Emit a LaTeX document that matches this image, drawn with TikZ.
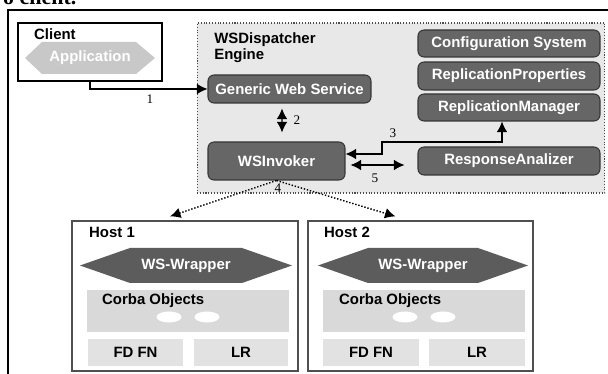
\documentclass[tikz,border=0pt]{standalone}
\usepackage{fontspec}
\setmainfont{Liberation Serif}
\setsansfont{Liberation Sans}
\usepackage{tikz}
\usetikzlibrary{arrows.meta,shapes.geometric}

\definecolor{boxgray}{HTML}{666666}
\definecolor{boxedge}{HTML}{363636}
\definecolor{dispgray}{HTML}{E8E8E8}
\definecolor{appgray}{HTML}{C8C8C8}
\definecolor{wrapgray}{HTML}{5C5C5C}
\definecolor{corbagray}{HTML}{D9D9D9}
\definecolor{cellgray}{HTML}{E2E2E2}
\definecolor{hostedge}{HTML}{505050}

\tikzset{
	lbl/.style={font=\sffamily\bfseries\fontsize{8.5}{9.2}\selectfont},
	num/.style={font=\rmfamily\fontsize{7.5}{8}\selectfont},
	darkbox/.style={lbl, draw=boxedge, fill=boxgray, text=white,
		rounded corners=0.12cm, line width=.6pt},
	hostbox/.style={draw=hostedge, fill=white, line width=.7pt},
	panel/.style={fill=corbagray},
	cellbox/.style={lbl, fill=cellgray, minimum height=0.54cm},
	blob/.style={ellipse, fill=white, inner sep=0pt,
		minimum width=0.5cm, minimum height=0.22cm}
}

\begin{document}
\begin{tikzpicture}[x=0.02cm,y=-0.02cm]
\useasboundingbox (0,0) rectangle (608,374);
% line of text cut off above the figure
\begin{scope}
	\clip (0,0) rectangle (608,8);
	\node[anchor=base west, font=\rmfamily\bfseries\fontsize{12.5}{13}\selectfont] (cut) at (-3,5) {o client.};
\end{scope}
\draw[line width=.7pt] (8,10) rectangle (700,420);

% client side
\node[draw, line width=.6pt, minimum width=2.88cm, minimum height=1.16cm] (client) at (90,52) {};
\node[lbl, anchor=west] (clientlbl) at (28,34) {Client};
\fill[appgray] (25,58) -- (42,42) -- (136,42) -- (155,58) -- (136,74) -- (42,74) -- cycle;
\node[lbl, text=white] (app) at (90,58) {Application};

% dispatcher engine
\node[draw=black!70, densely dotted, line width=.6pt, fill=dispgray,
	minimum width=8.16cm, minimum height=3.4cm] (disp) at (401,108) {};
\node[lbl, anchor=north west, align=left, inner sep=0pt] (displbl) at (214,32) {WSDispatcher\\Engine};
\begin{scope}[every node/.append style={darkbox}]
	\node[minimum width=3.26cm, minimum height=0.56cm] (gws) at (289.5,89) {Generic Web Service};
	\node[minimum width=2.74cm, minimum height=0.76cm] (inv) at (276.5,161) {WSInvoker};
	\node[minimum width=3.64cm, minimum height=0.54cm] (conf) at (509,43.5) {Configuration System};
	\node[minimum width=3.64cm, minimum height=0.56cm] (props) at (509,76) {ReplicationProperties};
	\node[minimum width=3.64cm, minimum height=0.54cm] (mgr) at (509,107.5) {ReplicationManager};
	\node[minimum width=3.64cm, minimum height=0.56cm] (resp) at (509,161) {ResponseAnalizer};
\end{scope}

% hosts
\node[hostbox, minimum width=4.52cm, minimum height=3cm] (host1) at (185,296) {};
\node[hostbox, minimum width=4.5cm, minimum height=3cm] (host2) at (420.5,296) {};
\node[lbl, anchor=west] (host1lbl) at (83,232) {Host 1};
\node[lbl, anchor=west] (host2lbl) at (318,232) {Host 2};
\fill[wrapgray] (80,265.5) -- (130,248) -- (242,248) -- (292,265.5) -- (242,283) -- (130,283) -- cycle;
\fill[wrapgray] (318,265.5) -- (368,248) -- (478,248) -- (528,265.5) -- (478,283) -- (368,283) -- cycle;
\node[lbl, text=white] (wrap1) at (186,265.5) {WS-Wrapper};
\node[lbl, text=white] (wrap2) at (423,265.5) {WS-Wrapper};
\node[panel, minimum width=4.04cm, minimum height=0.84cm] (corba1) at (188,311) {};
\node[panel, minimum width=4.04cm, minimum height=0.84cm] (corba2) at (424,311) {};
\node[lbl, anchor=west] (corba1lbl) at (96,301) {Corba Objects};
\node[lbl, anchor=west] (corba2lbl) at (333,301) {Corba Objects};
\node[blob] (obj1a) at (169,317) {};
\node[blob] (obj1b) at (207,317) {};
\node[blob] (obj2a) at (405,317) {};
\node[blob] (obj2b) at (443,317) {};
\node[cellbox, minimum width=1.9cm] (fd1) at (135.5,352.5) {FD FN};
\node[cellbox, minimum width=1.88cm] (lr1) at (241,352.5) {LR};
\node[cellbox, minimum width=1.92cm] (fd2) at (371,352.5) {FD FN};
\node[cellbox, minimum width=1.92cm] (lr2) at (477,352.5) {LR};

% connectors
\coordinate (bend3) at (382,142);
\begin{scope}[>={Latex[length=6pt,width=6pt]}, line width=.6pt]
	\draw[->] (client.south) |- (gws.west);
	\draw[<->] ([xshift=-.15cm,yshift=-.1cm]gws.south) -- ([xshift=.11cm,yshift=.18cm]inv.north);
	\draw[<->] ([yshift=.14cm]inv.east) -| (bend3) -| ([xshift=-.14cm]mgr.south);
	\draw[<->] ([xshift=.1cm,yshift=-.08cm]inv.east) -- ([xshift=-.26cm,yshift=-.08cm]resp.west);
	\draw[->, densely dotted, line width=.8pt] (inv.south) -- ([xshift=-.3cm,yshift=.08cm]host1.north);
	\draw[->, densely dotted, line width=.8pt] (inv.south) -- ([xshift=-.5cm,yshift=.08cm]host2.north);
\end{scope}
\node[num] (n1) at (150,99) {1};
\node[num] (n2) at (297,120) {2};
\node[num] (n3) at (393,133) {3};
\node[num] (n4) at (278,188) {4};
\node[num] (n5) at (375,178) {5};
\end{tikzpicture}
\end{document}
